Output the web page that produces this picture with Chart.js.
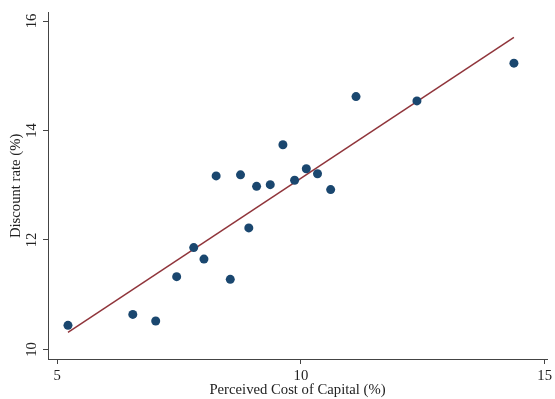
<!DOCTYPE html>
<html>
<head>
<meta charset="utf-8">
<script src="https://cdn.jsdelivr.net/npm/chart.js@4/dist/chart.umd.min.js"></script>
<style>
  html, body { margin: 0; padding: 0; background: #fff; }
  #wrap { position: relative; width: 555px; height: 399px; }
</style>
</head>
<body>
<div id="wrap"><canvas id="chart"></canvas></div>
<script>
// perceived cost of capital (%) vs discount rate (%)
const costOfCapital = [5.22, 6.55, 7.02, 7.45, 7.80, 8.01, 8.55, 8.93, 8.26, 8.76,
  9.09, 9.37, 9.63, 9.87, 10.11, 10.34, 10.61, 11.13, 12.38, 14.37];
const discountRate = [10.44, 10.64, 10.52, 11.33, 11.86, 11.65, 11.28, 12.22, 13.17, 13.19,
  12.98, 13.01, 13.74, 13.09, 13.30, 13.21, 12.92, 14.62, 14.54, 15.23];

// fitted line end points
const fitX = [5.22, 14.37];
const fitY = [10.31, 15.70];

const xTicks = [5, 10, 15];
const yTicks = [10, 12, 14, 16];

const serif = 'Liberation Serif, Times New Roman, serif';
const axisColor = '#444';
const fontSize = 14.7;

const ctx = document.getElementById('chart').getContext('2d');
new Chart(ctx, {
  type: 'scatter',
  data: {
    datasets: [
      {
        label: 'Discount rate',
        data: costOfCapital.map((x, i) => ({ x: x, y: discountRate[i] })),
        backgroundColor: '#1a476f',
        borderColor: '#1a476f',
        borderWidth: 0,
        pointRadius: 4.5,
        order: 1
      },
      {
        label: 'Fitted values',
        type: 'line',
        data: fitX.map((x, i) => ({ x: x, y: fitY[i] })),
        borderColor: '#90353b',
        borderWidth: 1.5,
        pointRadius: 0,
        fill: false,
        order: 2
      }
    ]
  },
  options: {
    responsive: true,
    maintainAspectRatio: false,
    animation: false,
    layout: { padding: { top: 9, right: 5, left: 0, bottom: 0 } },
    plugins: {
      legend: { display: false },
      tooltip: { enabled: false }
    },
    scales: {
      x: {
        type: 'linear',
        min: 4.81,
        max: 15.05,
        afterBuildTicks: s => { s.ticks = xTicks.map(v => ({ value: v })); },
        afterFit: s => { s.height = 40; },
        grid: { drawOnChartArea: false, drawTicks: true, tickLength: 5, color: axisColor },
        border: { display: true, color: axisColor, width: 1 },
        ticks: {
          color: '#222',
          padding: 3,
          maxRotation: 0,
          font: { family: serif, size: fontSize }
        },
        title: {
          display: true,
          text: 'Perceived Cost of Capital (%)',
          color: '#222',
          padding: { top: 0, bottom: 0 },
          font: { family: serif, size: fontSize }
        }
      },
      y: {
        type: 'linear',
        min: 9.825,
        max: 16.15,
        afterBuildTicks: s => { s.ticks = yTicks.map(v => ({ value: v })); },
        afterFit: s => { s.width = 48; },
        grid: { drawOnChartArea: false, drawTicks: true, tickLength: 5, color: axisColor },
        border: { display: true, color: axisColor, width: 1 },
        ticks: {
          color: '#222',
          padding: 4,
          minRotation: 90,
          maxRotation: 90,
          crossAlign: 'center',
          font: { family: serif, size: fontSize }
        },
        title: {
          display: true,
          text: 'Discount rate (%)',
          color: '#222',
          padding: { top: 7, bottom: 0 },
          font: { family: serif, size: fontSize }
        }
      }
    }
  }
});
</script>
</body>
</html>
